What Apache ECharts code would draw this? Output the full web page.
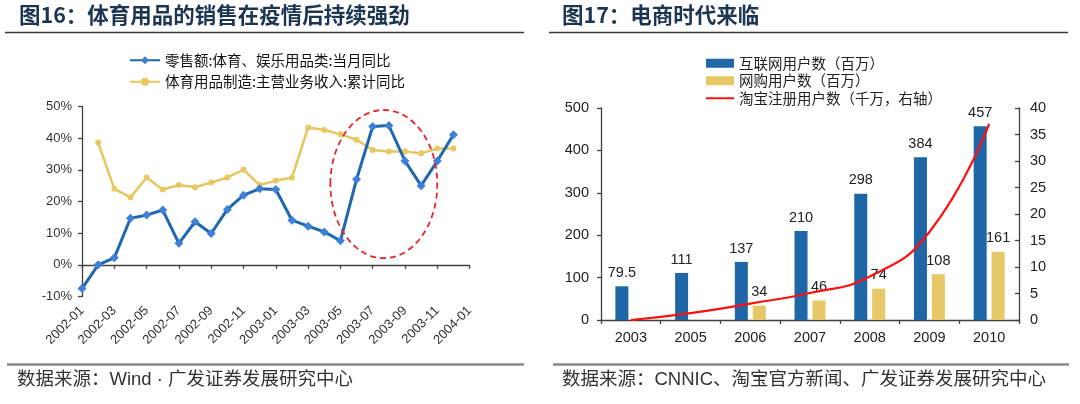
<!DOCTYPE html>
<html><head><meta charset="utf-8">
<script src="https://cdn.jsdelivr.net/npm/echarts@6/dist/echarts.min.js"></script>
<style>html,body{margin:0;padding:0;background:#fff}#c{width:1080px;height:404px}</style>
</head><body><div id="c"></div>
<script>
// ---- Left chart data ----
const months = ['2002-01','2002-02','2002-03','2002-04','2002-05','2002-06','2002-07','2002-08','2002-09','2002-10','2002-11','2002-12',
  '2003-01','2003-02','2003-03','2003-04','2003-05','2003-06','2003-07','2003-08','2003-09','2003-10','2003-11','2003-12','2004-01'];
const retailYoY = [-7.5, 0, 2.2, 14.7, 15.7, 17.3, 6.8, 13.6, 9.9, 17.5, 22, 24,
  23.8, 14.1, 12.2, 10.4, 7.6, 27, 43.7, 44, 32.8, 25, 32.8, 41.1, null];
const mfgYoY = [null, 38.6, 24, 21.3, 27.6, 23.8, 25.2, 24.5, 26, 27.6, 30, 25.2,
  26.6, 27.5, 43.4, 42.6, 41.2, 39.5, 36.3, 35.8, 35.8, 35.2, 36.7, 36.7, null];
const retailName = '零售额:体育、娱乐用品类:当月同比';
const mfgName = '体育用品制造:主营业务收入:累计同比';

// ---- Right chart data ----
const years = ['2003','2005','2006','2007','2008','2009','2010'];
const internetUsers = [79.5, 111, 137, 210, 298, 384, 457];
const onlineShoppers = [null, null, 34, 46, 74, 108, 161];
const taobaoUsers = [0, 1.3, 3.1, 5.1, 8.2, 16.6, 37];
const netName = '互联网用户数（百万）';
const shopName = '网购用户数（百万）';
const taobaoName = '淘宝注册用户数（千万，右轴）';

const FONT = "'Liberation Sans', Arial, 'Noto Sans CJK SC', sans-serif";
const CJK = "'Noto Sans CJK SC', 'Liberation Sans', sans-serif";
const AX = '#404040';

const chart = echarts.init(document.getElementById('c'), null, {renderer: 'canvas'});

const option = {
  animation: false,
  backgroundColor: '#fff',
  textStyle: {fontFamily: FONT},
  grid: [
    {left: 82, top: 106.5, width: 387.6, height: 190},
    {left: 601, top: 108, width: 418, height: 212}
  ],
  legend: [
    {
      data: [retailName, mfgName], orient: 'vertical', left: 124, top: 48,
      itemWidth: 30, itemHeight: 10, itemGap: 7,
      textStyle: {fontSize: 14.5, color: '#111', fontFamily: CJK}
    },
    {
      data: [{name: netName, icon: 'rect'}, {name: shopName, icon: 'rect'},
             {name: taobaoName, itemStyle: {opacity: 0}}],
      orient: 'vertical', left: 700, top: 51, itemWidth: 28, itemHeight: 9, itemGap: 3,
      textStyle: {fontSize: 14.5, color: '#222', fontFamily: CJK}
    }
  ],
  xAxis: [
    {
      type: 'category', gridIndex: 0, data: months, boundaryGap: false, position: 'bottom',
      axisLine: {show: true, onZero: true, lineStyle: {color: AX, width: 1.3}},
      axisTick: {show: true, interval: 1, length: 4, lineStyle: {color: AX, width: 1.3}},
      axisLabel: {show: false}, splitLine: {show: false}
    },
    {
      type: 'category', gridIndex: 0, data: months, boundaryGap: false, position: 'bottom',
      axisLine: {show: false, onZero: false}, axisTick: {show: false},
      axisLabel: {interval: 1, rotate: 45, margin: 12, fontSize: 13, color: '#333'}, splitLine: {show: false}
    },
    {
      type: 'category', gridIndex: 1, data: years, boundaryGap: true, position: 'bottom',
      axisLine: {show: true, lineStyle: {color: AX, width: 1.3}},
      axisTick: {show: true, length: 4, lineStyle: {color: AX, width: 1.3}},
      axisLabel: {fontSize: 14.5, margin: 11, color: '#222'}, splitLine: {show: false}
    }
  ],
  yAxis: [
    {
      type: 'value', gridIndex: 0, min: -10, max: 50, interval: 10,
      axisLine: {show: true, lineStyle: {color: AX, width: 1.3}},
      axisTick: {show: true, length: 4, lineStyle: {color: AX, width: 1.3}},
      splitLine: {show: false},
      axisLabel: {formatter: '{value}%', fontSize: 13, margin: 10, color: '#333'}
    },
    {
      type: 'value', gridIndex: 1, min: 0, max: 500, interval: 100, position: 'left',
      axisLine: {show: true, lineStyle: {color: AX, width: 1.3}},
      axisTick: {show: true, length: 4, lineStyle: {color: AX, width: 1.3}},
      splitLine: {show: false},
      axisLabel: {fontSize: 14.5, margin: 12, color: '#222'}
    },
    {
      type: 'value', gridIndex: 1, min: 0, max: 40, interval: 5, position: 'right',
      axisLine: {show: true, lineStyle: {color: AX, width: 1.3}},
      axisTick: {show: true, inside: true, length: 4, lineStyle: {color: AX, width: 1.3}},
      splitLine: {show: false},
      axisLabel: {fontSize: 14.5, margin: 11, color: '#222'}
    }
  ],
  series: [
    {
      name: retailName, type: 'line', xAxisIndex: 0, yAxisIndex: 0, data: retailYoY,
      symbol: 'diamond', symbolSize: 9, showAllSymbol: true,
      lineStyle: {color: '#1f67ae', width: 3}, itemStyle: {color: '#3f80d8'}, z: 4
    },
    {
      name: mfgName, type: 'line', xAxisIndex: 0, yAxisIndex: 0, data: mfgYoY,
      symbol: 'circle', symbolSize: 6, showAllSymbol: true,
      lineStyle: {color: '#e6c660', width: 2.5}, itemStyle: {color: '#e8c862'}, z: 3
    },
    {
      name: netName, type: 'bar', xAxisIndex: 2, yAxisIndex: 1, data: internetUsers,
      barWidth: 13, barGap: '38%', itemStyle: {color: '#1f66a6'},
      label: {show: true, position: 'top', distance: 6, fontSize: 14.5, color: '#222'}
    },
    {
      name: shopName, type: 'bar', xAxisIndex: 2, yAxisIndex: 1, data: onlineShoppers,
      barWidth: 13, barGap: '38%', itemStyle: {color: '#e6c868'},
      label: {show: true, position: 'top', distance: 6, fontSize: 14.5, color: '#222'}
    },
    {
      name: taobaoName, type: 'line', xAxisIndex: 2, yAxisIndex: 2, data: taobaoUsers,
      smooth: true, symbol: 'none',
      lineStyle: {color: '#ff1010', width: 2.2}, itemStyle: {color: '#ff1010'}, z: 5
    }
  ]
};

chart.setOption(option);

// Annotation ellipse around 2003-06..2003-11, placed via the axes
const pA = chart.convertToPixel({xAxisIndex: 0, yAxisIndex: 0}, [18, 25.5]);
const pB = chart.convertToPixel({xAxisIndex: 0, yAxisIndex: 0}, [19, 48.9]);
const step = pB[0] - pA[0];
const ell = {cx: pA[0] + 0.69 * step, cy: pA[1], rx: 3.31 * step, ry: pA[1] - pB[1]};

const titleStyle = {fontSize: 21.5, fontWeight: 'bold', fontFamily: CJK, fill: '#1c3553'};
const footStyle = {fontSize: 18.5, fontFamily: FONT, fill: '#333'};

chart.setOption({
  graphic: [
    {type: 'text', left: 19, top: 4, style: Object.assign({text: '图16：体育用品的销售在疫情后持续强劲'}, titleStyle)},
    {type: 'text', left: 562, top: 4, style: Object.assign({text: '图17：电商时代来临'}, titleStyle)},
    {type: 'line', shape: {x1: 5, y1: 32.5, x2: 524, y2: 32.5}, style: {stroke: '#3a3a3a', lineWidth: 1.5}},
    {type: 'line', shape: {x1: 549, y1: 32.5, x2: 1068, y2: 32.5}, style: {stroke: '#3a3a3a', lineWidth: 1.5}},
    {type: 'line', shape: {x1: 7, y1: 364.5, x2: 524, y2: 364.5}, style: {stroke: '#8a8a8a', lineWidth: 2.5}},
    {type: 'line', shape: {x1: 553, y1: 364.5, x2: 1069, y2: 364.5}, style: {stroke: '#8a8a8a', lineWidth: 2.5}},
    {type: 'text', left: 17, top: 371, style: Object.assign({text: '数据来源：Wind · 广发证券发展研究中心'}, footStyle)},
    {type: 'text', left: 562, top: 371, style: Object.assign({text: '数据来源：CNNIC、淘宝官方新闻、广发证券发展研究中心'}, footStyle)},
    {type: 'ellipse', shape: ell, z: 10, style: {fill: 'none', stroke: '#e8262a', lineWidth: 1.8, lineDash: [6, 4]}}
  ]
});
</script>
</body></html>
